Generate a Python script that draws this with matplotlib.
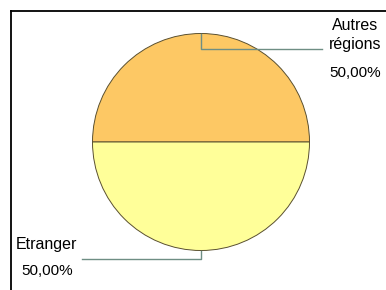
import matplotlib
matplotlib.use("Agg")
import matplotlib.pyplot as plt

labels = ["Autres\nrégions", "Etranger"]
values = [50.0, 50.0]
colors = ["#FDC864", "#FFFF99"]

W, H = 386, 290
plt.rcParams["font.family"] = ["Liberation Sans", "DejaVu Sans"]

fig = plt.figure(figsize=(W / 100, H / 100), dpi=100)
ax = fig.add_axes([0, 0, 1, 1])

cx, cy, r = 201, H - 142, 108.5
ax.pie(values, colors=colors, startangle=0, counterclock=True,
       center=(cx, cy), radius=r, frame=True,
       wedgeprops={"edgecolor": "#5a5030", "linewidth": 0.7})
ax.set_xlim(0, W)
ax.set_ylim(0, H)
ax.set_aspect("equal")
ax.axis("off")

pct = [f"{v:.2f}".replace(".", ",") + "%" for v in values]

# cadre
ax.plot([11, W], [H - 11, H - 11], color="black", lw=1.3)
ax.plot([11, 11], [H - 11, 0], color="black", lw=1.3)

lc = "#6E8E84"
# ligne de rappel : part du haut
ax.plot([cx, cx, 322], [cy + r, H - 49, H - 49], color=lc, lw=1)
ax.text(355, H - 35, labels[0], ha="center", va="center", fontsize=11.5,
        linespacing=1.25)
ax.text(355, H - 73, pct[0], ha="center", va="center", fontsize=11)
# ligne de rappel : part du bas
ax.plot([cx, cx, 82], [cy - r, H - 259, H - 259], color=lc, lw=1)
ax.text(16, H - 245, labels[1], ha="left", va="center", fontsize=11.5)
ax.text(47, H - 271, pct[1], ha="center", va="center", fontsize=11)

fig.savefig("out.png", dpi=100)
